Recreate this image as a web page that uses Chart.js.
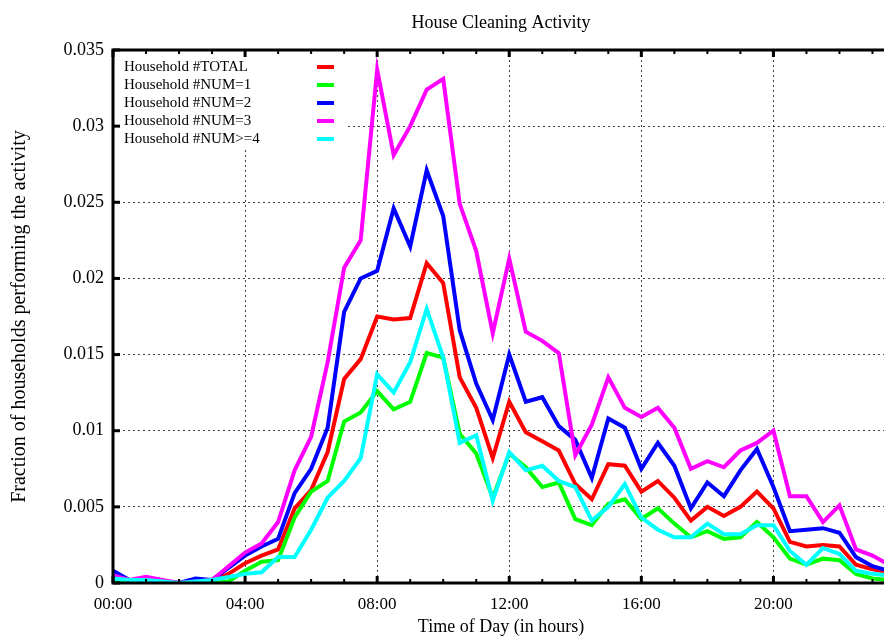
<!DOCTYPE html>
<html>
<head>
<meta charset="utf-8">
<title>House Cleaning Activity</title>
<script src="https://cdn.jsdelivr.net/npm/chart.js@4.4.1/dist/chart.umd.min.js"></script>
<style>
  html, body { margin: 0; padding: 0; background: #fff; overflow: hidden; }
  #chart { display: block; }
</style>
</head>
<body>
<canvas id="chart" width="900" height="637"></canvas>
<script>
// Half-hour slots of the day
const times = [
  '00:00','00:30','01:00','01:30','02:00','02:30','03:00','03:30',
  '04:00','04:30','05:00','05:30','06:00','06:30','07:00','07:30',
  '08:00','08:30','09:00','09:30','10:00','10:30','11:00','11:30',
  '12:00','12:30','13:00','13:30','14:00','14:30','15:00','15:30',
  '16:00','16:30','17:00','17:30','18:00','18:30','19:00','19:30',
  '20:00','20:30','21:00','21:30','22:00','22:30','23:00','23:30'
];

const seriesLabels = ['Household #TOTAL', 'Household #NUM=1', 'Household #NUM=2', 'Household #NUM=3', 'Household #NUM>=4'];

// fraction of households, one value per half hour
const total = [
  0.0003, 0.0002, 0.0001, 0.0001, 0.0000, 0.0001, 0.0001, 0.0006,
  0.0013, 0.0018, 0.0022, 0.0049, 0.0061, 0.0086, 0.0134, 0.0147,
  0.0175, 0.0173, 0.0174, 0.0210, 0.0197, 0.0135, 0.0115, 0.0082,
  0.0119, 0.0099, 0.0093, 0.0087, 0.0065, 0.0055, 0.0078, 0.0077,
  0.0060, 0.0067, 0.0056, 0.0041, 0.0050, 0.0044, 0.0050, 0.0060,
  0.0049, 0.0027, 0.0024, 0.0025, 0.0024, 0.0012, 0.0009, 0.0007
];
const num1 = [
  0.0002, 0.0002, 0.0001, 0.0000, 0.0000, 0.0000, 0.0000, 0.0001,
  0.0008, 0.0014, 0.0015, 0.0043, 0.0060, 0.0067, 0.0106, 0.0112,
  0.0126, 0.0114, 0.0119, 0.0151, 0.0148, 0.0098, 0.0085, 0.0056,
  0.0085, 0.0076, 0.0063, 0.0066, 0.0042, 0.0038, 0.0052, 0.0055,
  0.0042, 0.0049, 0.0039, 0.0030, 0.0034, 0.0029, 0.0030, 0.0040,
  0.0030, 0.0016, 0.0012, 0.0016, 0.0015, 0.0006, 0.0003, 0.0002
];
const num2 = [
  0.0008, 0.0002, 0.0001, 0.0001, 0.0000, 0.0003, 0.0002, 0.0010,
  0.0018, 0.0024, 0.0029, 0.0059, 0.0075, 0.0102, 0.0178, 0.0200,
  0.0205, 0.0246, 0.0221, 0.0271, 0.0241, 0.0166, 0.0131, 0.0107,
  0.0150, 0.0119, 0.0122, 0.0103, 0.0094, 0.0069, 0.0108, 0.0102,
  0.0075, 0.0092, 0.0077, 0.0049, 0.0066, 0.0057, 0.0074, 0.0088,
  0.0063, 0.0034, 0.0035, 0.0036, 0.0033, 0.0017, 0.0011, 0.0008
];
const num3 = [
  0.0005, 0.0002, 0.0004, 0.0002, 0.0000, 0.0001, 0.0002, 0.0011,
  0.0020, 0.0026, 0.0040, 0.0074, 0.0096, 0.0145, 0.0207, 0.0225,
  0.0337, 0.0281, 0.0300, 0.0324, 0.0331, 0.0249, 0.0218, 0.0164,
  0.0213, 0.0165, 0.0159, 0.0151, 0.0084, 0.0104, 0.0135, 0.0115,
  0.0109, 0.0115, 0.0102, 0.0075, 0.0080, 0.0076, 0.0087, 0.0092,
  0.0100, 0.0057, 0.0057, 0.0040, 0.0051, 0.0022, 0.0018, 0.0012
];
const num4 = [
  0.0003, 0.0002, 0.0002, 0.0001, 0.0000, 0.0001, 0.0002, 0.0004,
  0.0006, 0.0007, 0.0017, 0.0017, 0.0035, 0.0056, 0.0067, 0.0082,
  0.0137, 0.0125, 0.0145, 0.0180, 0.0148, 0.0092, 0.0097, 0.0054,
  0.0086, 0.0074, 0.0077, 0.0067, 0.0063, 0.0041, 0.0050, 0.0065,
  0.0043, 0.0035, 0.0030, 0.0030, 0.0039, 0.0032, 0.0032, 0.0038,
  0.0038, 0.0021, 0.0012, 0.0023, 0.0019, 0.0008, 0.0006, 0.0005
];

const colors = ['#ff0000', '#00ff00', '#0000ff', '#ff00ff', '#00ffff'];
const allSeries = [total, num1, num2, num3, num4];

const serif = '"Liberation Serif", "Times New Roman", serif';

// gnuplot-ish frame: thick border, inward ticks, legend box, title
const framePlugin = {
  id: 'frame',
  afterDraw(chart) {
    const ctx = chart.ctx;
    const a = chart.chartArea;
    const xs = chart.scales.x;
    const ys = chart.scales.y;
    ctx.save();

    // legend (white box, text left, sample line right)
    ctx.fillStyle = '#fff';
    ctx.fillRect(a.left + 2, a.top + 2, 232, 96);
    ctx.font = '15px ' + serif;
    ctx.textBaseline = 'middle';
    ctx.textAlign = 'left';
    chart.data.datasets.forEach((ds, i) => {
      const y = a.top + 17 + i * 18;
      ctx.fillStyle = '#000';
      ctx.fillText(ds.label, a.left + 11, y);
      ctx.strokeStyle = ds.borderColor;
      ctx.lineWidth = 4;
      ctx.beginPath();
      ctx.moveTo(a.left + 204, y);
      ctx.lineTo(a.left + 221, y);
      ctx.stroke();
    });

    // ticks
    ctx.strokeStyle = '#000';
    times.forEach((t, i) => {
      if (i % 2 !== 0) return;
      const x = xs.getPixelForValue(i);
      const len = i % 8 === 0 ? 7 : 4;
      ctx.lineWidth = i % 8 === 0 ? 3 : 2;
      ctx.beginPath();
      ctx.moveTo(x, a.bottom); ctx.lineTo(x, a.bottom - len);
      ctx.moveTo(x, a.top); ctx.lineTo(x, a.top + len);
      ctx.stroke();
    });
    ys.ticks.forEach(t => {
      const y = ys.getPixelForValue(t.value);
      ctx.lineWidth = 3;
      ctx.beginPath();
      ctx.moveTo(a.left, y); ctx.lineTo(a.left + 7, y);
      ctx.stroke();
    });

    // border
    ctx.lineWidth = 3;
    ctx.strokeRect(a.left, a.top, a.right - a.left, a.bottom - a.top);

    // title
    ctx.fillStyle = '#000';
    ctx.font = '18px ' + serif;
    ctx.textAlign = 'center';
    ctx.fillText('House Cleaning Activity', (a.left + a.right) / 2, 23);
    ctx.restore();
  }
};

const datasets = allSeries.map((vals, i) => ({
  label: seriesLabels[i],
  data: vals,
  borderColor: colors[i],
  backgroundColor: colors[i],
  borderWidth: 4,
  pointRadius: 0,
  tension: 0,
  fill: false,
  order: allSeries.length - i
}));

const gridColor = 'rgba(0,0,0,0.75)';

new Chart(document.getElementById('chart'), {
  type: 'line',
  data: { labels: times, datasets: datasets },
  options: {
    responsive: false,
    animation: false,
    layout: { padding: { top: 50, right: 7, bottom: 0, left: 0 } },
    plugins: {
      legend: { display: false },
      title: { display: false },
      tooltip: { enabled: false }
    },
    scales: {
      x: {
        type: 'category',
        offset: false,
        afterFit: s => { s.height = 54; },
        grid: {
          color: c => (c.index % 8 === 0 ? gridColor : 'rgba(0,0,0,0)'),
          lineWidth: 1,
          drawTicks: false
        },
        border: { display: false, dash: [2, 3] },
        ticks: {
          autoSkip: false,
          maxRotation: 0,
          padding: 11,
          color: '#000',
          font: { family: serif, size: 17 },
          callback: (v, i) => (i % 8 === 0 ? times[i] : '')
        },
        title: {
          display: true,
          text: 'Time of Day (in hours)',
          color: '#000',
          font: { family: serif, size: 18 },
          padding: { top: 0, bottom: -1 }
        }
      },
      y: {
        min: 0,
        max: 0.035,
        afterFit: s => { s.width = 113; },
        grid: { color: gridColor, lineWidth: 1, drawTicks: false },
        border: { display: false, dash: [2, 3] },
        ticks: {
          stepSize: 0.005,
          padding: 9,
          color: '#000',
          font: { family: serif, size: 18 },
          callback: v => (v === 0 ? '0' : String(+v.toFixed(3)))
        },
        title: {
          display: true,
          text: 'Fraction of households performing the activity',
          color: '#000',
          font: { family: serif, size: 20 },
          padding: { top: 8, bottom: 0 }
        }
      }
    }
  },
  plugins: [framePlugin]
});
</script>
</body>
</html>
